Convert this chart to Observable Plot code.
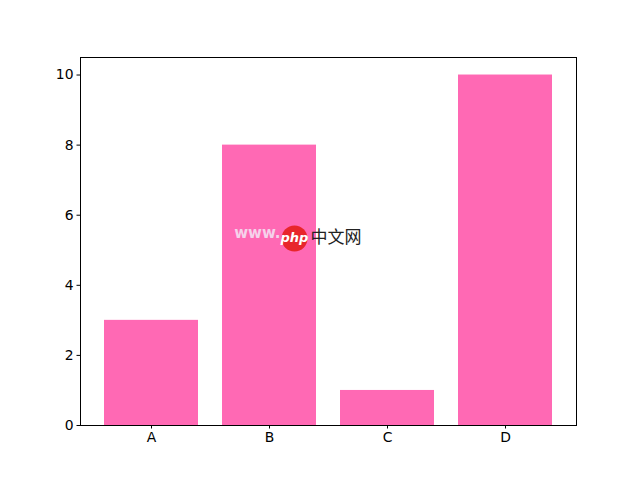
<!DOCTYPE html>
<html>
<head>
<meta charset="utf-8">
<script src="https://cdn.jsdelivr.net/npm/d3@7"></script>
<script src="https://cdn.jsdelivr.net/npm/@observablehq/plot@0.6"></script>
<style>
  html, body { margin: 0; padding: 0; background: #fff; }
  svg { display: block; }
</style>
</head>
<body>
<div id="chart"></div>
<script>
const categories = ["A", "B", "C", "D"];
const values = [3, 8, 1, 10];
const yTicks = [0, 2, 4, 6, 8, 10];

const data = categories.map((c, i) => ({cat: c, val: values[i]}));

const chart = Plot.plot({
  width: 640,
  height: 478,
  marginLeft: 80,
  marginRight: 64,
  marginTop: 57,
  marginBottom: 53,
  style: {fontFamily: "DejaVu Sans", fontSize: "13.9px", color: "black", background: "white"},
  x: {domain: categories, paddingInner: 0.2, paddingOuter: 0.19, label: null, tickSize: 3.5, tickPadding: 3.5},
  y: {domain: [0, 10.5], ticks: yTicks, label: null, tickSize: 3.5, tickPadding: 3.5},
  marks: [
    Plot.barY(data, {x: "cat", y: "val", fill: "#ff69b4"}),
    Plot.frame({stroke: "black", strokeWidth: 1}),
    // watermark
    Plot.text(["www."], {frameAnchor: "middle", textAnchor: "end", dx: -48, dy: -8, text: d => d, fill: "#f4e6f6", fillOpacity: 0.85, fontSize: 15, fontWeight: "bold"}),
    Plot.dot([0], {frameAnchor: "middle", dx: -34, dy: -3, r: 13, fill: "#e8262b", stroke: "none"}),
    Plot.text(["php"], {frameAnchor: "middle", dx: -34, dy: -4, text: d => d, fill: "white", fontSize: 13, fontStyle: "italic", fontWeight: "bold"}),
    Plot.text(["中文网"], {frameAnchor: "middle", textAnchor: "start", dx: -18, dy: -4, text: d => d, fill: "#222", fontSize: 17, fontFamily: "Noto Sans CJK SC"})
  ]
});
document.getElementById("chart").appendChild(chart);
</script>
</body>
</html>
